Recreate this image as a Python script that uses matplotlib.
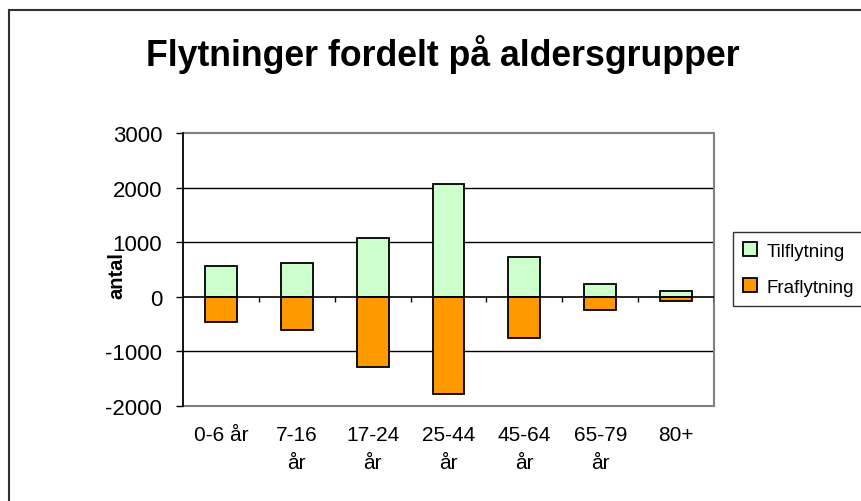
import numpy as np
import matplotlib
matplotlib.use("Agg")
import matplotlib.pyplot as plt
from matplotlib.lines import Line2D

plt.rcParams['font.family'] = ['Liberation Sans', 'DejaVu Sans']
plt.rcParams['axes.unicode_minus'] = False

# data
aldersgrupper = ["0-6 år", "7-16\når", "17-24\når", "25-44\når", "45-64\når", "65-79\når", "80+"]
tilflytning = [556, 621, 1075, 2074, 728, 243, 100]
fraflytning = [-463, -604, -1286, -1789, -750, -250, -73]
y_ticks = [-2000, -1000, 0, 1000, 2000, 3000]

W, H = 861, 502
fig = plt.figure(figsize=(W / 100, H / 100), dpi=100)
fig.patch.set_facecolor('white')

# plot area in pixel coords -> figure fractions
left, right, top, bottom = 183, 714, 134, 407
ax = fig.add_axes([left / W, 1 - bottom / H, (right - left) / W, (bottom - top) / H])

x = np.arange(len(aldersgrupper))
bw = 0.42
ax.bar(x, tilflytning, bw, color='#CCFFCC', edgecolor='black', linewidth=1.3,
       label='Tilflytning', zorder=3)
ax.bar(x, fraflytning, bw, color='#FF9900', edgecolor='black', linewidth=1.3,
       label='Fraflytning', zorder=3)

ax.set_xlim(-0.5, len(aldersgrupper) - 0.5)
ax.set_ylim(y_ticks[0], y_ticks[-1])
ax.set_yticks(y_ticks)
ax.set_yticklabels([str(v) for v in y_ticks], fontsize=16)
ax.set_xticks(x)
ax.set_xticklabels(aldersgrupper, fontsize=15, linespacing=1.6, va='top')
ax.tick_params(axis='x', length=0, pad=14)
ax.tick_params(axis='y', length=5, width=1, color='black', pad=10, direction='out')

# gridlines
for v in y_ticks[1:-1]:
    if v != 0:
        ax.axhline(v, color='black', lw=1, zorder=1)

# category axis at zero with tick marks between categories
ax.axhline(0, color='black', lw=1.2, zorder=4)
ax.vlines(x + 0.5, -100, 0, color='black', lw=1, zorder=4)

for s in ['top', 'right', 'bottom']:
    ax.spines[s].set_color('#808080')
    ax.spines[s].set_linewidth(1.5)
ax.spines['left'].set_color('black')
ax.spines['left'].set_linewidth(1.3)
ax.spines['left'].set_zorder(5)

# title and y label
fig.text(443 / W, 1 - 55 / H, 'Flytninger fordelt på aldersgrupper',
         fontsize=25.7, fontweight='bold', ha='center', va='center')
fig.text(117 / W, 1 - 276 / H, 'antal', fontsize=14.5, fontweight='bold',
         rotation=90, ha='center', va='center')

# legend
leg = fig.legend(loc='upper left', bbox_to_anchor=(733 / W, 1 - 233 / H),
                 fontsize=13.5, frameon=True, fancybox=False, borderaxespad=0,
                 handlelength=0.75, handleheight=0.75, handletextpad=0.5,
                 labelspacing=1.0, borderpad=0.55)
leg.get_frame().set_edgecolor('black')
leg.get_frame().set_linewidth(1)

# chart border (runs off the right and bottom)
fig.add_artist(Line2D([9 / W, 9 / W], [0, 1 - 11 / H], color='#303030', lw=1.5))
fig.add_artist(Line2D([9 / W, 1], [1 - 11 / H, 1 - 11 / H], color='#303030', lw=1.5))

fig.savefig('out.png', dpi=100)
